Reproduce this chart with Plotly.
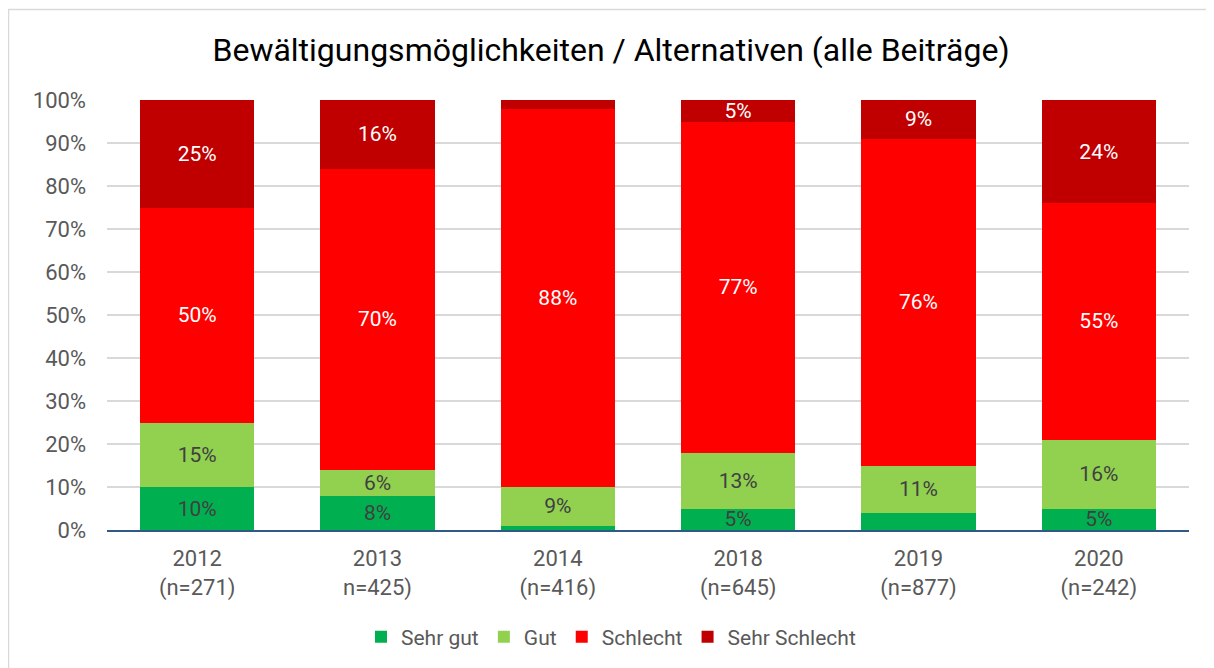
import plotly.graph_objects as go

categories = ["2012<br>(n=271)", "2013<br>n=425)", "2014<br>(n=416)",
              "2018<br>(n=645)", "2019<br>(n=877)", "2020<br>(n=242)"]
sehr_gut = [10, 8, 1, 5, 4, 5]
gut = [15, 6, 9, 13, 11, 16]
schlecht = [50, 70, 88, 77, 76, 55]
sehr_schlecht = [25, 16, 2, 5, 9, 24]

sehr_gut_labels = ["10%", "8%", "", "5%", "", "5%"]
gut_labels = ["15%", "6%", "9%", "13%", "11%", "16%"]
schlecht_labels = ["50%", "70%", "88%", "77%", "76%", "55%"]
sehr_schlecht_labels = ["25%", "16%", "", "5%", "9%", "24%"]

FONT = "Roboto"
series = [
    ("Sehr gut", sehr_gut, sehr_gut_labels, "#00B050", "#404040"),
    ("Gut", gut, gut_labels, "#92D050", "#404040"),
    ("Schlecht", schlecht, schlecht_labels, "#FF0000", "#FFFFFF"),
    ("Sehr Schlecht", sehr_schlecht, sehr_schlecht_labels, "#C00000", "#FFFFFF"),
]

fig = go.Figure()
for name, vals, labels, color, tcol in series:
    fig.add_trace(go.Bar(
        name=name, x=categories, y=[v / 100 for v in vals],
        text=labels, texttemplate="%{text}", textposition="inside",
        insidetextanchor="middle", constraintext="none",
        textfont=dict(color=tcol, size=21, family=FONT),
        marker=dict(color=color, line=dict(width=0)),
    ))

# page has an 8px body margin; figure is placed at (8, 8)
W, H = 1206, 660
L, T = 99, 92
PW, PH = 1082, 430
fig.update_layout(
    barmode="stack", bargap=0.367,
    width=W, height=H,
    margin=dict(l=L, r=W - L - PW, t=T, b=H - T - PH),
    paper_bgcolor="white", plot_bgcolor="white",
    title=dict(text="Bewältigungsmöglichkeiten / Alternativen (alle Beiträge)",
               x=0.5, xanchor="center", y=1 - 42 / H, yanchor="middle",
               font=dict(size=32, color="#000000", family=FONT)),
    legend=dict(orientation="h", x=0.5, xanchor="center", xref="container",
                y=(H - 629) / H, yanchor="middle", yref="container",
                font=dict(size=21, color="#595959", family=FONT),
                itemwidth=30, traceorder="normal"),
    uniformtext=dict(mode=False),
    shapes=[dict(type="rect", xref="paper", yref="paper",
                 x0=(0.5 - L) / PW, x1=(W + 20 - L) / PW,
                 y0=-(H + 20 - T - PH) / PH, y1=(T + PH - 1.5) / PH,
                 line=dict(color="#D9D9D9", width=1.5), layer="below")],
)
fig.update_yaxes(range=[0, 1], tickformat=".0%", dtick=0.1,
                 showgrid=True, gridcolor="#D9D9D9", gridwidth=1.5,
                 tickfont=dict(size=22, color="#595959", family=FONT),
                 zeroline=False, ticks="", ticklabelstandoff=20)
fig.update_xaxes(showline=True, linecolor="#2F5A84", linewidth=2,
                 tickfont=dict(size=22, color="#595959", family=FONT),
                 ticks="", ticklabelstandoff=8)

fig.write_html("out.html")
